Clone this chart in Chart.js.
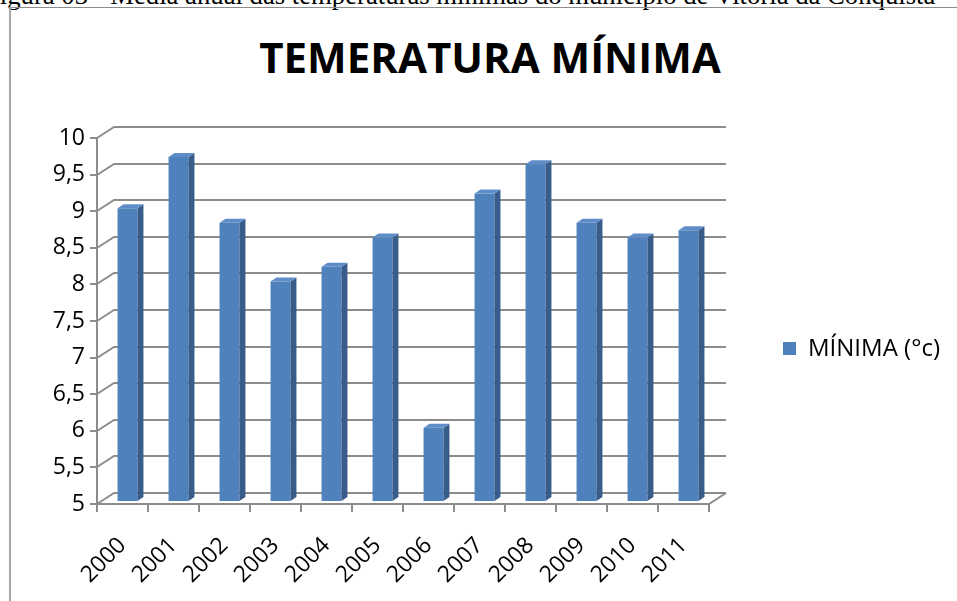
<!DOCTYPE html>
<html><head><meta charset="utf-8">
<script src="https://cdn.jsdelivr.net/npm/chart.js@4.4.0/dist/chart.umd.min.js"></script>
<style>
html,body{margin:0;padding:0;background:#fff;overflow:hidden}
#wrap{position:relative;width:957px;height:601px;overflow:hidden;background:#fff}
#cap{position:absolute;left:-15px;top:-18px;line-height:27px;font-family:"Liberation Serif","Times New Roman",serif;font-size:26.7px;white-space:nowrap;color:#000}
#hline{position:absolute;left:9px;top:7px;width:948px;height:1px;background:#8c8c8c}
#vline{position:absolute;left:9px;top:7px;width:2px;height:594px;background:#a6a6a6}
#title{position:absolute;left:0;width:980px;top:35px;line-height:43px;text-align:center;font-family:"Open Sans",sans-serif;font-weight:700;font-size:42px;color:#000}
canvas{position:absolute;left:0;top:0}
</style>
</head><body>
<div id="wrap">
<div id="cap">Figura 03 - Média anual das temperaturas mínimas do município de Vitória da Conquista</div>
<div id="hline"></div><div id="vline"></div>
<div id="title">TEMERATURA MÍNIMA</div>
<canvas id="c" width="957" height="601"></canvas>
</div>
<script>
const categories = ['2000','2001','2002','2003','2004','2005','2006','2007','2008','2009','2010','2011'];
const minima = [9.0, 9.7, 8.8, 8.0, 8.2, 8.6, 6.0, 9.2, 9.6, 8.8, 8.6, 8.7];
const seriesLabel = 'MÍNIMA (°c)';
const yMin = 5, yMax = 10, yStep = 0.5;

const FRONT = '#4F81BD', SIDE = '#385D8A', TOP = '#5E8DC9', GRID = '#8C8C8C';
const DX = 17, DY = -11;      // wall depth
const BDX = 5, BDY = -3;      // bar depth position
const SDX = 6, SDY = -4;      // bar thickness depth
const AXFONT = {family: 'Open Sans', size: 23};

const frame3d = {
  id: 'frame3d',
  beforeDatasetsDraw(chart) {
    const ctx = chart.ctx, a = chart.chartArea, ys = chart.scales.y, xs = chart.scales.x;
    ctx.save();
    ctx.strokeStyle = GRID; ctx.lineWidth = 2; ctx.lineJoin = 'miter';
    ys.ticks.forEach(t => {
      const y = Math.round(ys.getPixelForValue(t.value));
      ctx.beginPath();
      ctx.moveTo(a.left, y); ctx.lineTo(a.left + DX, y + DY); ctx.lineTo(a.right + DX, y + DY);
      ctx.stroke();
      ctx.beginPath(); ctx.moveTo(a.left - 7, y); ctx.lineTo(a.left, y); ctx.stroke();
    });
    const yb = Math.round(ys.getPixelForValue(yMin)), yt = Math.round(ys.getPixelForValue(yMax));
    ctx.beginPath(); ctx.moveTo(a.left, yt); ctx.lineTo(a.left, yb); ctx.stroke();
    ctx.beginPath(); ctx.moveTo(a.left, yb); ctx.lineTo(a.right, yb); ctx.lineTo(a.right + DX, yb + DY); ctx.stroke();
    const n = categories.length;
    for (let i = 0; i <= n; i++) {
      const x = Math.round(xs.left + i * (xs.right - xs.left) / n);
      ctx.beginPath(); ctx.moveTo(x, yb); ctx.lineTo(x, yb + 8); ctx.stroke();
    }
    ctx.restore();
    ctx.save();
    ctx.translate(BDX, BDY);
  },
  afterDatasetsDraw(chart) {
    const ctx = chart.ctx, ys = chart.scales.y;
    const floor = ys.getPixelForValue(yMin);
    chart.getDatasetMeta(0).data.forEach(bar => {
      const p = bar.getProps(['x', 'y', 'base', 'width'], true);
      const base = Math.min(p.base, floor);
      const l = p.x - p.width / 2, r = p.x + p.width / 2;
      ctx.fillStyle = SIDE;
      ctx.beginPath();
      ctx.moveTo(r, p.y); ctx.lineTo(r + SDX, p.y + SDY); ctx.lineTo(r + SDX, base + SDY); ctx.lineTo(r, base);
      ctx.closePath(); ctx.fill();
      ctx.fillStyle = TOP;
      ctx.beginPath();
      ctx.moveTo(l, p.y); ctx.lineTo(l + SDX, p.y + SDY); ctx.lineTo(r + SDX, p.y + SDY); ctx.lineTo(r, p.y);
      ctx.closePath(); ctx.fill();
    });
    ctx.restore();
  },
  afterDraw(chart) {
    const ctx = chart.ctx;
    ctx.save();
    ctx.fillStyle = FRONT;
    ctx.fillRect(783, 342, 13, 13);
    ctx.fillStyle = '#000';
    ctx.font = '24px "Open Sans"';
    ctx.textBaseline = 'middle';
    ctx.textAlign = 'left';
    ctx.fillText(chart.data.datasets[0].label, 808, 349);
    ctx.restore();
  }
};

new Chart(document.getElementById('c'), {
  type: 'bar',
  data: {
    labels: categories,
    datasets: [{label: seriesLabel, data: minima, base: yMin, backgroundColor: FRONT, borderWidth: 0,
      categoryPercentage: 1, barPercentage: 0.39}]
  },
  options: {
    responsive: false, animation: false, devicePixelRatio: 1,
    layout: {padding: {left: 0, top: 138, right: 248, bottom: 0}},
    plugins: {legend: {display: false}, title: {display: false}, tooltip: {enabled: false}},
    scales: {
      y: {min: yMin, max: yMax,
        grid: {display: false, drawTicks: false}, border: {display: false},
        ticks: {stepSize: yStep, padding: 12, color: '#000', font: AXFONT,
          callback: v => String(v).replace('.', ',')},
        afterFit: s => { s.width = 97; }},
      x: {grid: {display: false, drawTicks: false}, border: {display: false},
        ticks: {minRotation: 45, maxRotation: 45, autoSkip: false, padding: 28, color: '#000', font: AXFONT},
        afterFit: s => { s.height = 97; }}
    }
  },
  plugins: [frame3d]
});
</script>
</body></html>
